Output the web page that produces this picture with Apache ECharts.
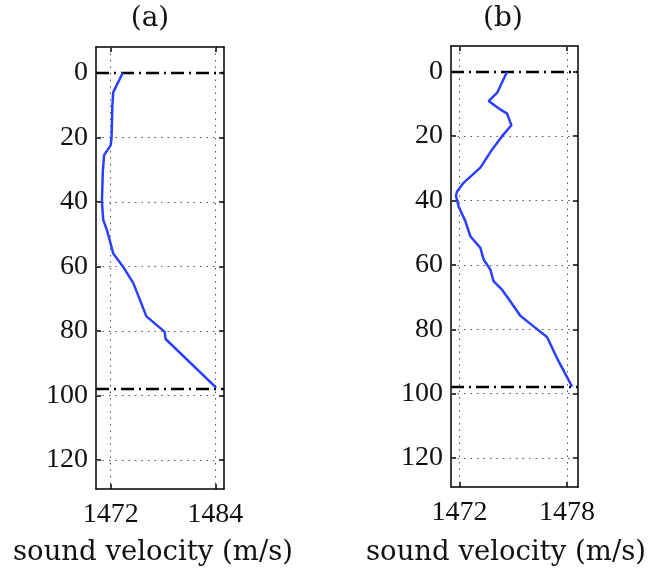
<!DOCTYPE html>
<html><head><meta charset="utf-8">
<script src="https://cdn.jsdelivr.net/npm/echarts@6/dist/echarts.min.js"></script>
<style>html,body{margin:0;padding:0;background:#fff}#c{width:649px;height:574px}</style>
</head><body><div id="c"></div>
<script>
// ---- data ----
const panelTitles = ['(a)', '(b)'];
const xAxisTitle = 'sound velocity (m/s)';
const depthTicks = [0, 20, 40, 60, 80, 100, 120];
const velTicksA = [1472, 1484];
const velTicksB = [1472, 1478];
const boundaryDepths = [0, 98];
// panel (a): sound velocity (m/s) vs depth (m)
const velA   = [1473.4, 1472.3, 1472.2, 1472.1, 1472.0, 1471.25, 1471.1, 1471.0, 1471.15, 1471.6, 1472.3, 1473.4, 1474.6, 1476.1, 1478.2, 1478.3, 1484.1];
const depthA = [0, 6, 10, 20.4, 22.5, 25.5, 30.7, 40, 45.6, 49, 56, 60, 65.2, 75.5, 80.3, 82.5, 97.6];
// panel (b)
const velB   = [1474.65, 1474.1, 1473.62, 1474.27, 1474.65, 1474.89, 1474.37, 1473.81, 1473.16, 1472.22, 1471.85, 1471.8, 1471.94, 1472.32, 1472.6, 1473.16, 1473.34, 1473.72, 1473.9, 1474.37, 1474.83, 1475.39, 1476.13, 1476.88, 1477.53, 1478.28];
const depthB = [0, 6.5, 9.1, 11.7, 13, 16.6, 20, 24.2, 29.8, 34.5, 37.3, 38.6, 41.8, 46.4, 51.1, 54.7, 58.3, 61.5, 65.1, 67.7, 71.3, 75.8, 79.1, 82.4, 90, 97.8];

// ---- chart ----
const serif = 'Liberation Serif';
const cm = 'DejaVu Serif';
const chart = echarts.init(document.getElementById('c'), null, {renderer: 'canvas'});
const grids = [
  {left: 96, top: 47, width: 128, height: 442},
  {left: 451, top: 46, width: 127, height: 441}
];
const xRanges = [[1470.32, 1485.0], [1471.52, 1478.61]];
const xTicks = [velTicksA, velTicksB];
const yRange = [-8, 129];
const dotted = {color: '#555', width: 1, type: [1.5, 5]};
const axisLineStyle = {color: '#000', width: 1.5};
const nameStyle = {fontFamily: cm, fontSize: 27.5, fontWeight: 'normal', color: '#111'};

const xAxes = [], yAxes = [], series = [];
[0, 1].forEach(i => {
  xAxes.push({
    type: 'value', gridIndex: i, position: 'bottom', min: xRanges[i][0], max: xRanges[i][1],
    axisLine: {show: true, onZero: false, lineStyle: axisLineStyle},
    axisTick: {show: true, inside: true, length: 5, customValues: xTicks[i], lineStyle: axisLineStyle},
    axisLabel: {customValues: xTicks[i], formatter: v => String(v), fontFamily: serif, fontSize: 28, color: '#111', margin: 12},
    splitLine: {show: false}
  });
  xAxes.push({
    type: 'value', gridIndex: i, position: 'top', min: xRanges[i][0], max: xRanges[i][1],
    axisLine: {show: true, onZero: false, lineStyle: axisLineStyle},
    axisTick: {show: true, inside: true, length: 5, customValues: xTicks[i], lineStyle: axisLineStyle},
    axisLabel: {show: false}, splitLine: {show: false}
  });
  yAxes.push({
    type: 'value', gridIndex: i, position: 'left', inverse: true, min: yRange[0], max: yRange[1],
    axisLine: {show: true, onZero: false, lineStyle: axisLineStyle},
    axisTick: {show: true, inside: true, length: 5, customValues: depthTicks, lineStyle: axisLineStyle},
    axisLabel: {customValues: depthTicks, fontFamily: serif, fontSize: 28, color: '#111', margin: 8},
    splitLine: {show: false}
  });
  yAxes.push({
    type: 'value', gridIndex: i, position: 'right', inverse: true, min: yRange[0], max: yRange[1],
    axisLine: {show: true, onZero: false, lineStyle: axisLineStyle},
    axisTick: {show: true, inside: true, length: 5, customValues: depthTicks, lineStyle: axisLineStyle},
    axisLabel: {show: false}, splitLine: {show: false}
  });
  const vel = i === 0 ? velA : velB;
  const dep = i === 0 ? depthA : depthB;
  series.push({
    type: 'line', xAxisIndex: i * 2, yAxisIndex: i * 2, data: [], silent: true,
    markLine: {
      silent: true, symbol: 'none', label: {show: false}, animation: false,
      lineStyle: dotted,
      data: depthTicks.filter(d => d !== 0).map(d => ({yAxis: d})).concat(xTicks[i].map(v => ({xAxis: v})))
    }
  });
  series.push({
    type: 'line', xAxisIndex: i * 2, yAxisIndex: i * 2, data: [], silent: true,
    markLine: {
      silent: true, symbol: 'none', label: {show: false}, animation: false,
      lineStyle: {color: '#000', width: 2.4, type: [13, 5, 2, 5]},
      data: boundaryDepths.map(d => ({yAxis: d}))
    }
  });
  series.push({
    type: 'line', xAxisIndex: i * 2, yAxisIndex: i * 2, showSymbol: false, animation: false,
    lineStyle: {color: '#2b40ff', width: 2.5},
    data: vel.map((v, k) => [v, dep[k]]), z: 5
  });
});

const titleStyle = {fontFamily: cm, fontSize: 28, fontWeight: 'normal', color: '#111'};
chart.setOption({
  animation: false,
  backgroundColor: '#fff',
  title: [
    {text: panelTitles[0], left: 150, top: 5, padding: 0, textAlign: 'center', textStyle: titleStyle},
    {text: panelTitles[1], left: 503, top: 5, padding: 0, textAlign: 'center', textStyle: titleStyle},
    {text: xAxisTitle, left: 153, top: 539, padding: 0, textAlign: 'center', textStyle: nameStyle},
    {text: xAxisTitle, left: 506, top: 539, padding: 0, textAlign: 'center', textStyle: nameStyle}
  ],
  grid: grids,
  xAxis: xAxes,
  yAxis: yAxes,
  series: series
});
</script></body></html>
